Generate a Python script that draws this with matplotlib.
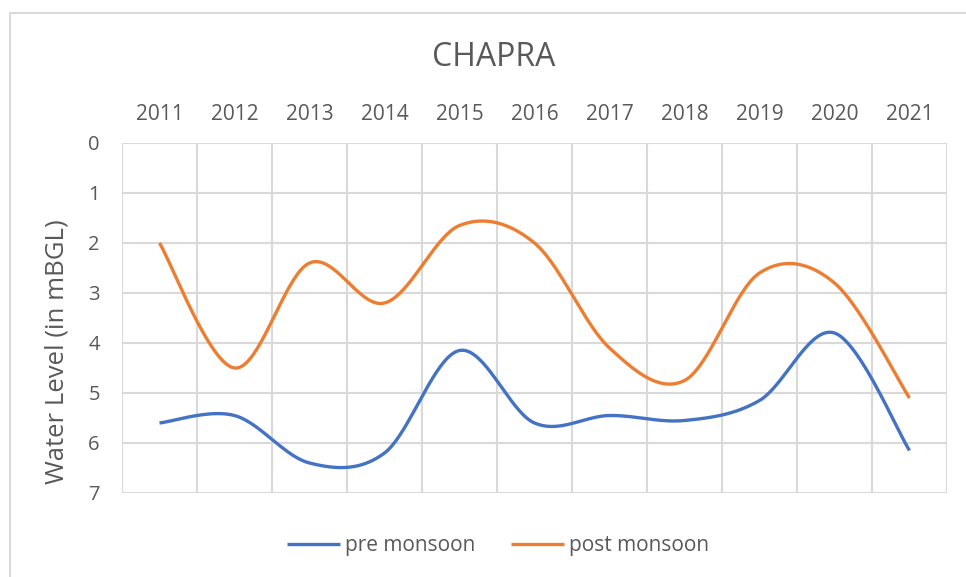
import numpy as np
import matplotlib
matplotlib.use("Agg")
import matplotlib.pyplot as plt
from matplotlib.patches import Rectangle

years = ["2011", "2012", "2013", "2014", "2015", "2016", "2017", "2018", "2019", "2020", "2021"]
pre_monsoon = [5.6, 5.45, 6.4, 6.2, 4.15, 5.6, 5.45, 5.55, 5.15, 3.8, 6.15]
post_monsoon = [2.0, 4.5, 2.4, 3.2, 1.65, 2.0, 4.1, 4.75, 2.6, 2.8, 5.1]
y_ticks = [0, 1, 2, 3, 4, 5, 6, 7]

TEXT = "#595959"
GRID = "#d9d9d9"
FONT = ["Open Sans", "DejaVu Sans"]


def smooth(xs, ys, n=40):
    """Excel-like smoothed line via cubic Bezier (Catmull-Rom) through points."""
    xs = np.asarray(xs, float)
    ys = np.asarray(ys, float)
    P = np.column_stack([xs, ys])
    out = []
    m = len(P)
    for i in range(m - 1):
        p0 = P[i - 1] if i > 0 else P[i]
        p1 = P[i]
        p2 = P[i + 1]
        p3 = P[i + 2] if i + 2 < m else P[i + 1]
        b1 = p1 + (p2 - p0) / 6.0
        b2 = p2 - (p3 - p1) / 6.0
        t = np.linspace(0, 1, n)[:, None]
        seg = ((1 - t) ** 3) * p1 + 3 * ((1 - t) ** 2) * t * b1 + 3 * (1 - t) * t ** 2 * b2 + t ** 3 * p2
        out.append(seg if i == 0 else seg[1:])
    arr = np.vstack(out)
    return arr[:, 0], arr[:, 1]


fig = plt.figure(figsize=(9.66, 5.77), dpi=100)
fig.patch.set_facecolor("white")

# chart border
fig.add_artist(Rectangle((10 / 966, -0.1), 1.2, 1 - 13 / 577 + 0.1, transform=fig.transFigure,
                         fill=False, edgecolor=GRID, lw=1.5))

ax = fig.add_axes([122 / 966, 1 - 493 / 577, (947 - 122) / 966, (493 - 143) / 577])
x = np.arange(len(years))

sx, sy = smooth(x, pre_monsoon)
ax.plot(sx, sy, color="#4472C4", lw=2.4, solid_capstyle="butt", label="pre monsoon", zorder=3)
sx, sy = smooth(x, post_monsoon)
ax.plot(sx, sy, color="#ED7D31", lw=2.4, solid_capstyle="butt", label="post monsoon", zorder=3)

ax.set_xlim(-0.5, len(years) - 0.5)
ax.set_ylim(7, 0)
ax.set_yticks(y_ticks)
ax.set_yticklabels([str(v) for v in y_ticks], fontsize=14.5, color=TEXT, family=FONT)
ax.set_xticks(x)
ax.set_xticklabels(years, fontsize=15, color=TEXT, family=FONT)
ax.xaxis.tick_top()
ax.tick_params(axis="x", length=0, pad=13)
ax.tick_params(axis="y", length=0, pad=16)

# gridlines
for v in y_ticks:
    ax.axhline(v, color=GRID, lw=1.5, zorder=1)
for b in np.arange(-0.5, len(years), 1.0):
    ax.axvline(b, color=GRID, lw=1.5, zorder=1)
for s in ax.spines.values():
    s.set_visible(False)

fig.text(57 / 966, 1 - 352 / 577, "Water Level (in mBGL)", rotation=90, ha="center", va="center",
         fontsize=18.5, color=TEXT, family=FONT)

fig.text(494 / 966, 1 - 57 / 577, "CHAPRA", ha="center", va="center", fontsize=23, color=TEXT, family=FONT)

fig.legend(loc="center", bbox_to_anchor=(498 / 966, 1 - 546 / 577), ncol=2, frameon=False,
           prop={"family": FONT, "size": 15}, labelcolor=TEXT, handlelength=2.55,
           handletextpad=0.25, columnspacing=1.7)

fig.savefig("out.png", dpi=100, facecolor="white")
